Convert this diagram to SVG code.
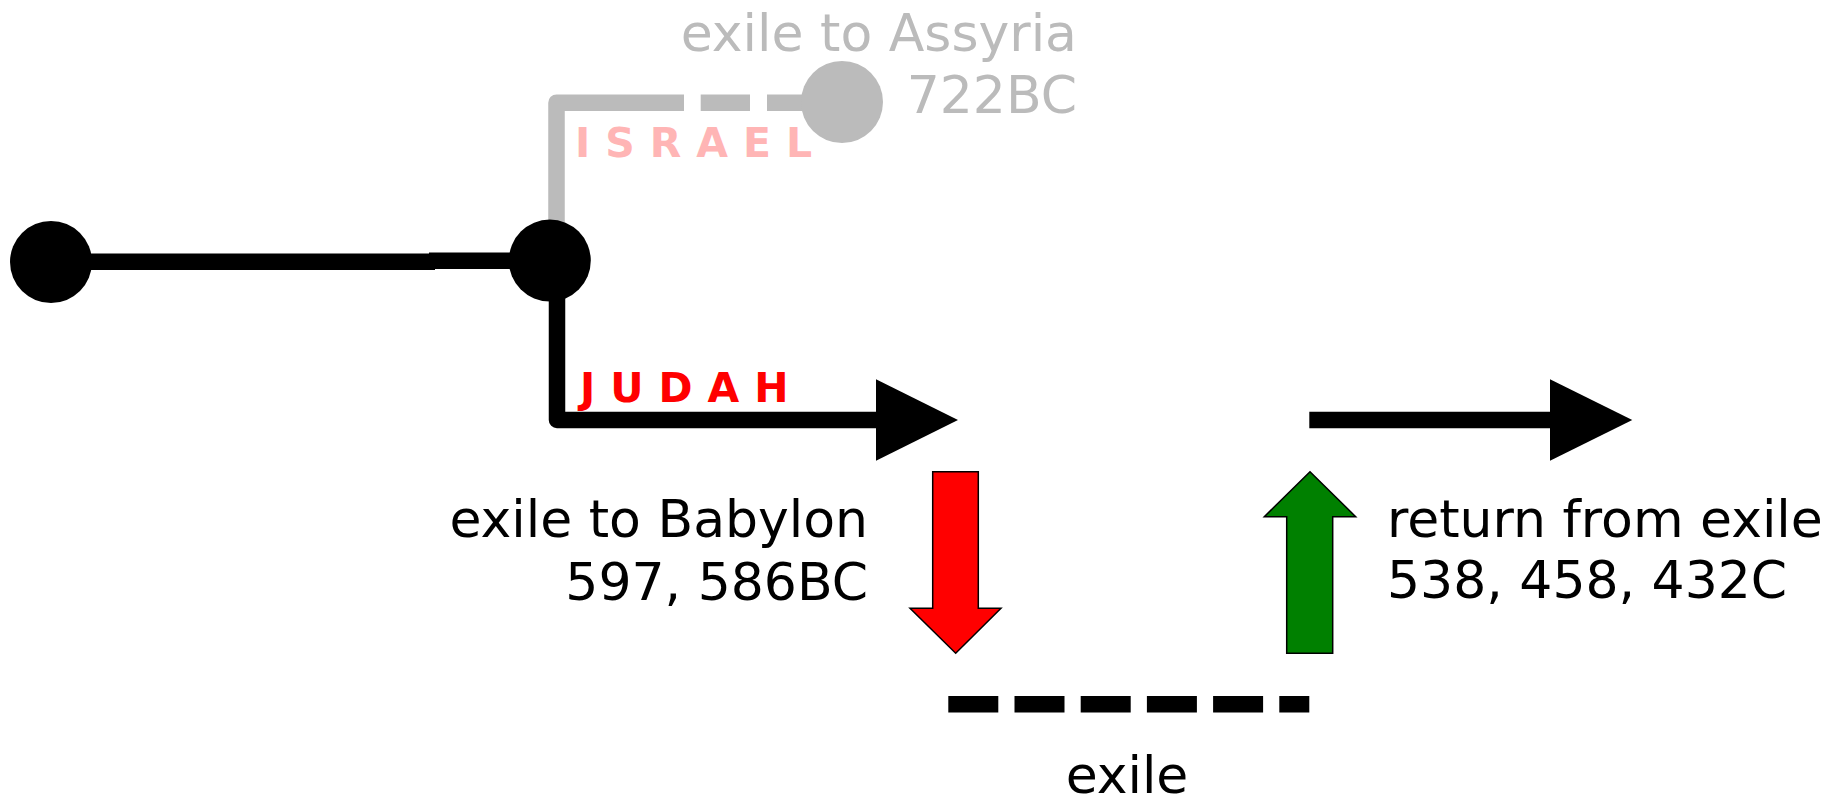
<svg xmlns="http://www.w3.org/2000/svg" width="1841" height="799" viewBox="0 0 1841 799">
<style>
.lbl{font-family:"DejaVu Sans","Verdana",sans-serif;font-size:52px;}
.tag{font-family:"DejaVu Sans",sans-serif;font-size:41px;font-weight:bold;letter-spacing:15px;}
.blk{stroke:#000;stroke-width:16.5;fill:none;}
.gry{stroke:#bbbbbb;stroke-width:16.5;fill:none;}
.big{stroke:#000;stroke-width:1.5;}
</style>
<rect width="1841" height="799" fill="#fff"/>
<g id="connectors">
  <line class="blk" x1="51" y1="261.7" x2="435" y2="261.7"/>
  <line class="blk" x1="429" y1="260.8" x2="549" y2="260.8"/>
  <path class="gry" d="M556.5,230 V102.7 H684" stroke-linejoin="round"/>
  <line class="gry" x1="700.7" y1="102.7" x2="750" y2="102.7"/>
  <line class="gry" x1="767" y1="102.7" x2="820" y2="102.7"/>
  <path class="blk" d="M557,290 V420 H880" stroke-linejoin="round"/>
  <polygon points="876,379.3 958,420 876,460.7" fill="#000"/>
  <line class="blk" x1="1309.3" y1="420" x2="1554" y2="420"/>
  <polygon points="1550,379.3 1632.3,420 1550,460.7" fill="#000"/>
  <line class="blk" x1="948.3" y1="704.2" x2="1309.3" y2="704.2" stroke-dasharray="50 16.2"/>
  <polygon class="big" fill="#ff0000" points="932.7,471.7 978.3,471.7 978.3,608.3 1001,608.3 955.7,653.3 910,608.3 932.7,608.3"/>
  <polygon class="big" fill="#008000" points="1310,471.7 1355.7,516.7 1332.7,516.7 1332.7,653.3 1286.7,653.3 1286.7,516.7 1264.3,516.7"/>
</g>
<g id="start">
  <circle cx="51" cy="262" r="41" fill="#000"/>
</g>
<g id="split">
  <circle cx="549.8" cy="260.6" r="41" fill="#000"/>
</g>
<g id="assyria">
  <circle cx="842" cy="102" r="41" fill="#bbbbbb"/>
  <text class="lbl" x="1077" y="50.7" text-anchor="end" fill="#bbbbbb">exile to Assyria</text>
  <text class="lbl" x="1077" y="112.7" text-anchor="end" fill="#bbbbbb">722BC</text>
</g>
<g id="israel">
  <text class="tag" x="575" y="157" fill="#ffb5b5">ISRAEL</text>
</g>
<g id="judah">
  <text class="tag" x="580" y="401.7" fill="#ff0000">JUDAH</text>
</g>
<g id="babylon">
  <text class="lbl" x="868" y="537.3" text-anchor="end" fill="#000">exile to Babylon</text>
  <text class="lbl" x="868" y="600" text-anchor="end" fill="#000">597, 586BC</text>
</g>
<g id="return">
  <text class="lbl" x="1387" y="536.7" fill="#000">return from exile</text>
  <text class="lbl" x="1387" y="598.3" fill="#000">538, 458, 432C</text>
</g>
<g id="exile">
  <text class="lbl" x="1127" y="793" text-anchor="middle" fill="#000">exile</text>
</g>
</svg>
